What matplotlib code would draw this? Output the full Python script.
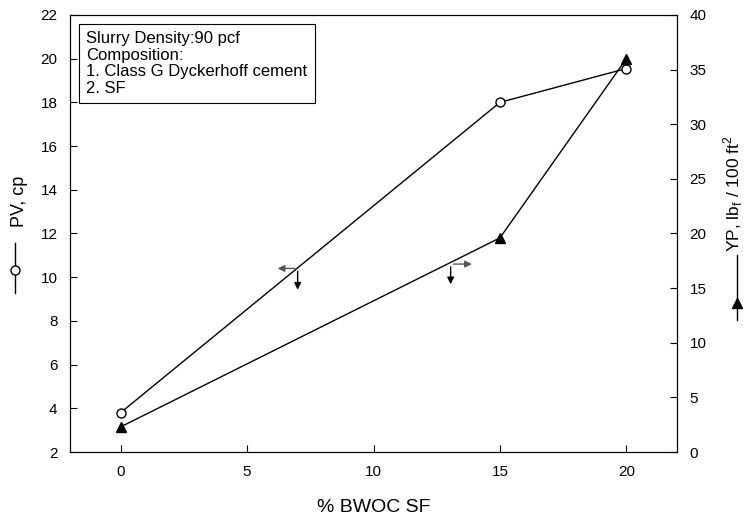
import matplotlib.pyplot as plt
from matplotlib.lines import Line2D

plt.rcParams['font.family'] = ['Liberation Sans', 'DejaVu Sans']

sf = [0, 15, 20]
pv = [3.8, 18.0, 19.55]
yp = [2.3, 19.6, 36.0]

x_ticks = [0, 5, 10, 15, 20]
pv_ticks = list(range(2, 23, 2))
yp_ticks = list(range(0, 41, 5))

fig = plt.figure(figsize=(7.45, 5.16), dpi=100)
ax = fig.add_axes([0.094, 0.124, 0.8147, 0.847])
ax2 = ax.twinx()

ax.plot(sf, pv, color='black', lw=1, marker='o', mfc='white', mec='black', ms=6.5, zorder=3)
ax2.plot(sf, yp, color='black', lw=1, marker='^', mfc='black', mec='black', ms=7.5, zorder=3)

ax.set_xlim(-2, 22)
ax.set_ylim(2, 22)
ax2.set_ylim(0, 40)
ax.set_xticks(x_ticks)
ax.set_yticks(pv_ticks)
ax2.set_yticks(yp_ticks)
ax.tick_params(direction='in', labelsize=11, length=5, pad=9)
ax2.tick_params(direction='in', labelsize=11, length=5, pad=9)
fig.text(0.5 * (70 + 677) / 745, 1 - 508 / 516, '% BWOC SF', ha='center', va='center', fontsize=14)

# arrows pointing to the axes each curve belongs to
akw = dict(arrowstyle='-|>', color='#555555', lw=1.0, mutation_scale=10)
ax.annotate('', xy=(6.1, 10.4), xytext=(7.0, 10.4), arrowprops=akw)
ax.annotate('', xy=(7.0, 9.3), xytext=(7.0, 10.4), arrowprops=dict(akw, color='black'))
ax.annotate('', xy=(14.0, 10.6), xytext=(13.05, 10.6), arrowprops=akw)
ax.annotate('', xy=(13.05, 9.55), xytext=(13.05, 10.6), arrowprops=dict(akw, color='black'))

ax.text(-1.35, 21.25, 'Slurry Density:90 pcf\nComposition:\n1. Class G Dyckerhoff cement\n2. SF',
        fontsize=12, va='top', ha='left', linespacing=1.12,
        bbox=dict(boxstyle='square,pad=0.45', fc='white', ec='black', lw=0.8))

# y labels with series symbols
fig.text(20 / 745, 1 - 201 / 516, 'PV, cp', rotation=90, ha='center', va='center', fontsize=13)
fig.add_artist(Line2D([15 / 745, 15 / 745], [1 - 243 / 516, 1 - 293 / 516], color='black', lw=1))
fig.add_artist(Line2D([15 / 745], [1 - 270 / 516], marker='o', mfc='white', mec='black', ms=6.5))

fig.text(733 / 745, 1 - 194 / 516, r'YP, lb$_\mathregular{f}$ / 100 ft$^\mathregular{2}$',
         rotation=90, ha='center', va='center', fontsize=12.5)
fig.add_artist(Line2D([737 / 745, 737 / 745], [1 - 255 / 516, 1 - 320 / 516], color='black', lw=1))
fig.add_artist(Line2D([737 / 745], [1 - 303 / 516], marker='^', mfc='black', mec='black', ms=7.5))

fig.savefig('out.png', dpi=100)
